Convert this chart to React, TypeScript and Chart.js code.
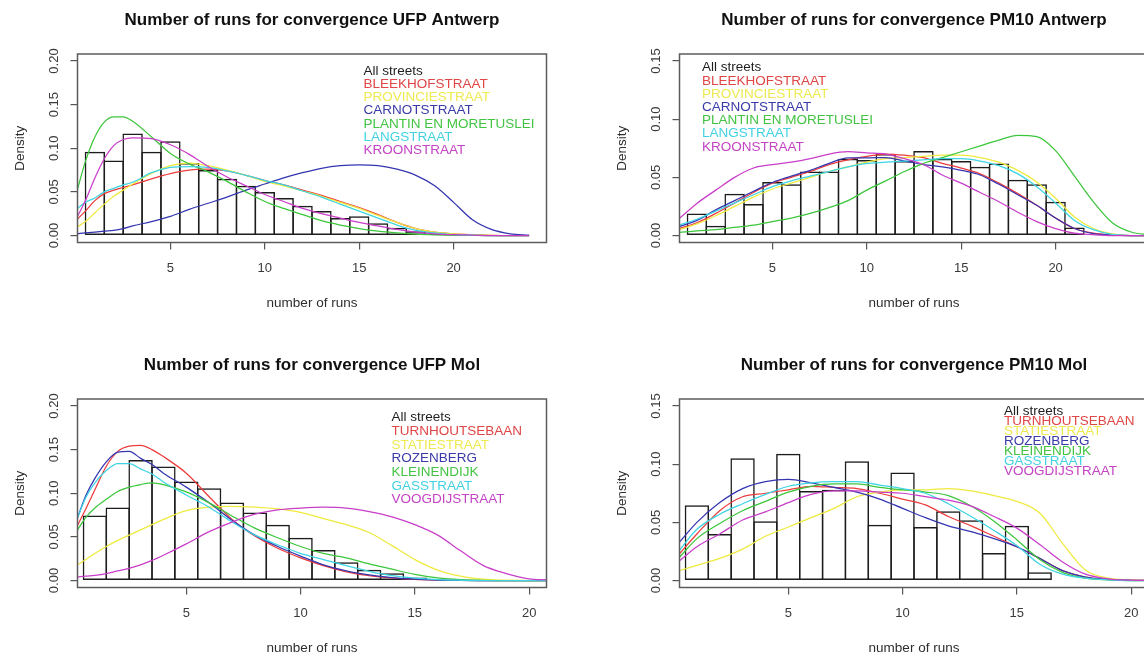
import { useEffect, useRef } from 'react';
import { Chart, registerables } from 'chart.js';

Chart.register(...registerables);

const FONT = '"Liberation Sans", Arial, Helvetica, sans-serif';
Chart.defaults.font.family = FONT;

// Street colours, in legend order
const lineColors = ['#ec3c3c', '#eeea3e', '#3535b0', '#3cc63c', '#3ed4e4', '#c93ec9'];
const textColors = ['#e04646', '#eeea52', '#3a3aa8', '#42c442', '#44d2e2', '#c444c4'];
const allStreetsLabel = 'All streets';
const xAxisLabel = 'number of runs';
const yAxisLabel = 'Density';

// ---------- UFP, Antwerp ----------
const ufpAntwerpTitle = 'Number of runs for convergence UFP Antwerp';
const antwerpStreets = ['BLEEKHOFSTRAAT', 'PROVINCIESTRAAT', 'CARNOTSTRAAT', 'PLANTIN EN MORETUSLEI', 'LANGSTRAAT', 'KROONSTRAAT'];
const ufpAntwerpRange = [1, 24];
const ufpAntwerpHist = [0.096, 0.086, 0.117, 0.096, 0.108, 0.083, 0.075, 0.065, 0.057, 0.05, 0.043, 0.034, 0.028, 0.02, 0.022, 0.014, 0.009, 0.005, 0.002];
const ufpAntwerpX = [0.08, 0.5, 1, 1.5, 2, 2.5, 3, 4, 5, 6, 7, 8, 9, 10, 11, 12, 13, 14, 15, 16, 17, 18, 19, 20, 21, 22, 23, 24];
const ufpAntwerpBleekhof = [0.019, 0.028, 0.04, 0.048, 0.052, 0.055, 0.058, 0.065, 0.071, 0.075, 0.076, 0.074, 0.069, 0.063, 0.058, 0.052, 0.046, 0.039, 0.032, 0.024, 0.015, 0.008, 0.004, 0.002, 0.001, 0.0003, 0, 0];
const ufpAntwerpProvincie = [0.01, 0.016, 0.026, 0.036, 0.045, 0.052, 0.059, 0.071, 0.08, 0.083, 0.08, 0.075, 0.069, 0.062, 0.057, 0.051, 0.045, 0.038, 0.031, 0.023, 0.015, 0.008, 0.004, 0.002, 0.001, 0.0003, 0, 0];
const ufpAntwerpCarnot = [0.002, 0.003, 0.004, 0.005, 0.006, 0.008, 0.011, 0.016, 0.022, 0.03, 0.037, 0.044, 0.052, 0.059, 0.066, 0.072, 0.077, 0.08, 0.081, 0.08, 0.076, 0.069, 0.057, 0.038, 0.018, 0.007, 0.002, 0.0005];
const ufpAntwerpPlantin = [0.053, 0.085, 0.113, 0.13, 0.136, 0.136, 0.131, 0.113, 0.094, 0.082, 0.073, 0.062, 0.05, 0.039, 0.031, 0.024, 0.017, 0.012, 0.008, 0.005, 0.003, 0.0015, 0.0007, 0.0003, 0.0001, 0, 0, 0];
const ufpAntwerpLang = [0.031, 0.038, 0.043, 0.05, 0.054, 0.058, 0.061, 0.072, 0.078, 0.079, 0.078, 0.074, 0.069, 0.063, 0.058, 0.051, 0.044, 0.036, 0.028, 0.02, 0.012, 0.006, 0.003, 0.001, 0.0005, 0, 0, 0];
const ufpAntwerpKroon = [0.022, 0.04, 0.066, 0.088, 0.103, 0.11, 0.112, 0.111, 0.104, 0.093, 0.079, 0.067, 0.057, 0.047, 0.039, 0.031, 0.025, 0.02, 0.015, 0.011, 0.007, 0.004, 0.002, 0.001, 0.0005, 0, 0, 0];

// ---------- PM10, Antwerp ----------
const pmAntwerpTitle = 'Number of runs for convergence PM10 Antwerp';
const pmAntwerpRange = [1, 24];
const pmAntwerpHist = [0.019, 0.0085, 0.036, 0.027, 0.046, 0.044, 0.055, 0.055, 0.066, 0.065, 0.07, 0.064, 0.0727, 0.066, 0.064, 0.059, 0.062, 0.048, 0.044, 0.029, 0.0068];
const pmAntwerpX = [0.08, 1, 2, 3, 4, 5, 6, 7, 8, 9, 10, 11, 12, 13, 14, 15, 16, 17, 18, 19, 20, 21, 22, 23, 24, 25];
const pmAntwerpBleekhof = [0.006, 0.011, 0.019, 0.028, 0.037, 0.045, 0.05, 0.055, 0.061, 0.065, 0.068, 0.07, 0.069, 0.067, 0.062, 0.058, 0.053, 0.045, 0.036, 0.026, 0.015, 0.006, 0.002, 0.0005, 0, 0];
const pmAntwerpProvincie = [0.005, 0.01, 0.017, 0.025, 0.033, 0.04, 0.045, 0.05, 0.055, 0.059, 0.063, 0.066, 0.067, 0.068, 0.069, 0.069, 0.067, 0.063, 0.056, 0.046, 0.032, 0.016, 0.006, 0.0015, 0, 0];
const pmAntwerpCarnot = [0.0077, 0.013, 0.022, 0.03, 0.038, 0.0456, 0.051, 0.056, 0.062, 0.0667, 0.0667, 0.067, 0.064, 0.061, 0.059, 0.056, 0.052, 0.044, 0.035, 0.026, 0.015, 0.006, 0.0017, 0.0004, 0, 0];
const pmAntwerpPlantin = [0.0026, 0.004, 0.005, 0.007, 0.009, 0.012, 0.015, 0.019, 0.024, 0.03, 0.039, 0.047, 0.055, 0.062, 0.067, 0.072, 0.077, 0.082, 0.086, 0.085, 0.073, 0.051, 0.029, 0.011, 0.003, 0.0005];
const pmAntwerpLang = [0.009, 0.014, 0.021, 0.028, 0.035, 0.042, 0.047, 0.051, 0.055, 0.059, 0.062, 0.063, 0.064, 0.065, 0.066, 0.066, 0.064, 0.06, 0.053, 0.042, 0.028, 0.013, 0.005, 0.001, 0, 0];
const pmAntwerpKroon = [0.0148, 0.0276, 0.039, 0.05, 0.058, 0.061, 0.063, 0.066, 0.07, 0.072, 0.071, 0.07, 0.066, 0.061, 0.052, 0.045, 0.037, 0.029, 0.02, 0.012, 0.006, 0.002, 0.0007, 0, 0, 0];

// ---------- UFP, Mol ----------
const ufpMolTitle = 'Number of runs for convergence UFP Mol';
const molStreets = ['TURNHOUTSEBAAN', 'STATIESTRAAT', 'ROZENBERG', 'KLEINENDIJK', 'GASSTRAAT', 'VOOGDIJSTRAAT'];
const ufpMolRange = [1, 20];
const ufpMolHist = [0.0745, 0.0836, 0.138, 0.1306, 0.1134, 0.1058, 0.0893, 0.0779, 0.0638, 0.049, 0.035, 0.021, 0.0122, 0.0084, 0.0034];
const ufpMolX = [0.24, 0.6, 1, 1.5, 2, 2.5, 3, 3.5, 4, 5, 6, 7, 8, 9, 10, 11, 12, 13, 14, 15, 16, 17, 18, 19, 20, 20.76];
const ufpMolTurnhout = [0.063, 0.082, 0.104, 0.131, 0.148, 0.154, 0.155, 0.15, 0.142, 0.123, 0.096, 0.07, 0.051, 0.037, 0.026, 0.017, 0.01, 0.0055, 0.003, 0.0012, 0.0004, 0.0001, 0, 0, 0, 0];
const ufpMolStatie = [0.018, 0.024, 0.031, 0.039, 0.046, 0.052, 0.058, 0.064, 0.07, 0.08, 0.084, 0.085, 0.084, 0.082, 0.078, 0.071, 0.064, 0.055, 0.04, 0.024, 0.012, 0.005, 0.0015, 0.0004, 0, 0];
const ufpMolRozenberg = [0.072, 0.097, 0.117, 0.136, 0.147, 0.148, 0.14, 0.133, 0.123, 0.107, 0.089, 0.069, 0.052, 0.039, 0.028, 0.018, 0.011, 0.0065, 0.0034, 0.0015, 0.0005, 0.0001, 0, 0, 0, 0];
const ufpMolKleinendijk = [0.058, 0.072, 0.083, 0.093, 0.102, 0.107, 0.11, 0.112, 0.11, 0.1015, 0.089, 0.074, 0.06, 0.049, 0.039, 0.031, 0.026, 0.019, 0.013, 0.007, 0.003, 0.001, 0.0003, 0, 0, 0];
const ufpMolGas = [0.072, 0.095, 0.112, 0.126, 0.134, 0.134, 0.128, 0.122, 0.113, 0.098, 0.084, 0.067, 0.052, 0.041, 0.031, 0.024, 0.017, 0.0105, 0.0055, 0.0027, 0.001, 0.0003, 0, 0, 0, 0];
const ufpMolVoogdij = [0.004, 0.005, 0.006, 0.008, 0.011, 0.014, 0.018, 0.023, 0.029, 0.042, 0.056, 0.067, 0.076, 0.081, 0.083, 0.084, 0.083, 0.079, 0.073, 0.064, 0.052, 0.034, 0.017, 0.008, 0.002, 0.0008];

// ---------- PM10, Mol ----------
const pmMolTitle = 'Number of runs for convergence PM10 Mol';
const pmMolRange = [1, 20];
const pmMolHist = [0.0647, 0.04, 0.105, 0.051, 0.109, 0.077, 0.078, 0.1026, 0.048, 0.0928, 0.046, 0.0595, 0.0517, 0.0236, 0.047, 0.0072];
const pmMolX = [0.24, 1, 2, 3, 4, 5, 6, 7, 8, 9, 10, 11, 12, 13, 14, 15, 16, 17, 18, 19, 20, 20.76];
const pmMolTurnhout = [0.023, 0.04, 0.06, 0.072, 0.075, 0.078, 0.081, 0.08, 0.079, 0.075, 0.07, 0.065, 0.055, 0.047, 0.038, 0.029, 0.019, 0.0085, 0.003, 0.001, 0.0002, 0];
const pmMolStatie = [0.0086, 0.013, 0.019, 0.027, 0.038, 0.046, 0.054, 0.062, 0.072, 0.076, 0.078, 0.078, 0.079, 0.077, 0.073, 0.068, 0.058, 0.032, 0.009, 0.002, 0.0005, 0];
const pmMolRozenberg = [0.033, 0.05, 0.067, 0.079, 0.085, 0.087, 0.084, 0.08, 0.076, 0.07, 0.062, 0.054, 0.047, 0.042, 0.036, 0.029, 0.019, 0.0085, 0.003, 0.001, 0.0002, 0];
const pmMolKleinendijk = [0.02, 0.036, 0.049, 0.06, 0.068, 0.076, 0.081, 0.083, 0.083, 0.08, 0.078, 0.076, 0.073, 0.064, 0.051, 0.035, 0.018, 0.007, 0.002, 0.0005, 0, 0];
const pmMolGas = [0.026, 0.044, 0.057, 0.066, 0.074, 0.081, 0.084, 0.085, 0.085, 0.082, 0.079, 0.075, 0.066, 0.055, 0.043, 0.03, 0.014, 0.0055, 0.002, 0.0005, 0, 0];
const pmMolVoogdij = [0.017, 0.029, 0.04, 0.052, 0.059, 0.067, 0.074, 0.077, 0.077, 0.076, 0.075, 0.072, 0.069, 0.064, 0.055, 0.045, 0.031, 0.016, 0.0055, 0.0015, 0.0003, 0];

// Axis ticks
const runTicks = [5, 10, 15, 20];
const ufpDensityTicks = [0, 0.05, 0.1, 0.15, 0.2];
const pmDensityTicks = [0, 0.05, 0.1, 0.15];
const ufpDensityRange = [0, 0.2];
const pmDensityRange = [0, 0.15];

// Panel geometry (canvas pixels)
const CANVAS_W = 602;
const CANVAS_H = 345;
const PLOT_LEFT = 77.5;
const PLOT_RIGHT_GAP = 55.5;
const TITLE_BLOCK = 54;
const X_AXIS_BLOCK = 70;
const BOTTOM_GAP = 32.5;

interface PanelSpec {
  title: string;
  xRange: number[];
  yRange: number[];
  yTicks: number[];
  hist: number[];
  gridX: number[];
  curves: number[][];
  streets: string[];
  legend: { x: number; y: number; step: number };
}

const panels: { spec: PanelSpec; left: number; top: number }[] = [
  {
    left: 0,
    top: 0,
    spec: {
      title: ufpAntwerpTitle, xRange: ufpAntwerpRange, yRange: ufpDensityRange, yTicks: ufpDensityTicks,
      hist: ufpAntwerpHist, gridX: ufpAntwerpX,
      curves: [ufpAntwerpBleekhof, ufpAntwerpProvincie, ufpAntwerpCarnot, ufpAntwerpPlantin, ufpAntwerpLang, ufpAntwerpKroon],
      streets: antwerpStreets, legend: { x: 363.5, y: 71, step: 13.2 },
    },
  },
  {
    left: 602,
    top: 0,
    spec: {
      title: pmAntwerpTitle, xRange: pmAntwerpRange, yRange: pmDensityRange, yTicks: pmDensityTicks,
      hist: pmAntwerpHist, gridX: pmAntwerpX,
      curves: [pmAntwerpBleekhof, pmAntwerpProvincie, pmAntwerpCarnot, pmAntwerpPlantin, pmAntwerpLang, pmAntwerpKroon],
      streets: antwerpStreets, legend: { x: 100, y: 67.7, step: 13.2 },
    },
  },
  {
    left: 0,
    top: 345,
    spec: {
      title: ufpMolTitle, xRange: ufpMolRange, yRange: ufpDensityRange, yTicks: ufpDensityTicks,
      hist: ufpMolHist, gridX: ufpMolX,
      curves: [ufpMolTurnhout, ufpMolStatie, ufpMolRozenberg, ufpMolKleinendijk, ufpMolGas, ufpMolVoogdij],
      streets: molStreets, legend: { x: 391.5, y: 72.5, step: 13.7 },
    },
  },
  {
    left: 602,
    top: 345,
    spec: {
      title: pmMolTitle, xRange: pmMolRange, yRange: pmDensityRange, yTicks: pmDensityTicks,
      hist: pmMolHist, gridX: pmMolX,
      curves: [pmMolTurnhout, pmMolStatie, pmMolRozenberg, pmMolKleinendijk, pmMolGas, pmMolVoogdij],
      streets: molStreets, legend: { x: 402, y: 66, step: 10.1 },
    },
  },
];

// Base-graphics style axis extension: 4% beyond the data range on each side
function extendRange(range: number[]): [number, number] {
  const span = range[1] - range[0];
  return [range[0] - 0.04 * span, range[1] + 0.04 * span];
}

const AXIS_COLOR = '#555555';
const TICK_TEXT = '#3a3a3a';

function DensityPanel({ spec, left, top }: { spec: PanelSpec; left: number; top: number }) {
  const ref = useRef<HTMLCanvasElement | null>(null);

  useEffect(() => {
    const canvas = ref.current;
    if (!canvas) return;
    const [xMin, xMax] = extendRange(spec.xRange);
    const [yMin, yMax] = extendRange(spec.yRange);
    const plotWidth = CANVAS_W - PLOT_LEFT - PLOT_RIGHT_GAP;
    const pxPerRun = plotWidth / (xMax - xMin);
    const outline = 1.5;

    const curveSets = spec.curves.map((vals, i) => ({
      type: 'line' as const,
      label: spec.streets[i],
      data: spec.gridX.map((x, j) => ({ x, y: vals[j] })),
      borderColor: lineColors[i],
      borderWidth: 1.25,
      pointRadius: 0,
      cubicInterpolationMode: 'monotone' as const,
      fill: false,
      order: spec.curves.length - i,
    }));

    const histSet = {
      type: 'bar' as const,
      label: allStreetsLabel,
      data: spec.hist.map((y, i) => ({ x: i + 1, y })),
      backgroundColor: 'rgba(255,255,255,0)',
      borderColor: '#1c1c1c',
      borderWidth: outline,
      borderSkipped: false,
      barPercentage: 1 + outline / pxPerRun,
      categoryPercentage: 1,
      order: 20,
    };

    const framePlugin = {
      id: 'frameAndStreetLegend',
      afterDraw(c: Chart) {
        const { ctx, chartArea: a } = c;
        ctx.save();
        ctx.strokeStyle = '#5c5c5c';
        ctx.lineWidth = 1.5;
        ctx.strokeRect(a.left, a.top, a.right - a.left, a.bottom - a.top);
        ctx.font = `13.5px ${FONT}`;
        ctx.textAlign = 'left';
        ctx.textBaseline = 'middle';
        const labels = [allStreetsLabel, ...spec.streets];
        labels.forEach((label, i) => {
          ctx.fillStyle = i === 0 ? '#1e1e1e' : textColors[i - 1];
          ctx.fillText(label, spec.legend.x, spec.legend.y + i * spec.legend.step);
        });
        ctx.restore();
      },
    };

    const tickGrid = {
      offset: false,
      drawOnChartArea: false,
      drawTicks: true,
      tickLength: 7,
      color: AXIS_COLOR,
      lineWidth: 1.2,
    };

    const chart = new Chart(canvas, {
      type: 'bar',
      data: { datasets: [...curveSets, histSet] as any },
      options: {
        animation: false,
        responsive: false,
        maintainAspectRatio: false,
        devicePixelRatio: 1,
        layout: { padding: { left: 0, top: 0, right: PLOT_RIGHT_GAP, bottom: BOTTOM_GAP } },
        plugins: {
          legend: { display: false },
          tooltip: { enabled: false },
          title: {
            display: true,
            text: spec.title,
            fullSize: false,
            color: '#111111',
            font: { size: 17, weight: 'bold', family: FONT, lineHeight: 1.2 },
            padding: { top: 9.8, bottom: TITLE_BLOCK - 9.8 - 20.4 },
          },
        },
        scales: {
          x: {
            type: 'linear',
            min: xMin,
            max: xMax,
            offset: false,
            afterBuildTicks: (axis: any) => {
              axis.ticks = runTicks.map((value) => ({ value }));
            },
            afterFit: (axis: any) => {
              axis.height = X_AXIS_BLOCK;
            },
            grid: tickGrid,
            border: { display: false },
            ticks: {
              autoSkip: false,
              maxRotation: 0,
              padding: 11,
              color: TICK_TEXT,
              font: { size: 13, family: FONT },
              callback: (v: any) => String(v),
            },
            title: {
              display: true,
              text: xAxisLabel,
              color: '#2e2e2e',
              font: { size: 13.5, family: FONT, lineHeight: 1.2 },
              padding: { top: 0, bottom: 1.5 },
            },
          },
          y: {
            type: 'linear',
            min: yMin,
            max: yMax,
            afterBuildTicks: (axis: any) => {
              axis.ticks = spec.yTicks.map((value) => ({ value }));
            },
            afterFit: (axis: any) => {
              axis.width = PLOT_LEFT;
            },
            grid: tickGrid,
            border: { display: false },
            ticks: {
              autoSkip: false,
              minRotation: 90,
              maxRotation: 90,
              crossAlign: 'center',
              padding: 3.6,
              color: TICK_TEXT,
              font: { size: 13, family: FONT },
              callback: (v: any) => Number(v).toFixed(2),
            },
            title: {
              display: true,
              text: yAxisLabel,
              color: '#2e2e2e',
              font: { size: 13.5, family: FONT, lineHeight: 1.2 },
              padding: { top: 12.4, bottom: 0 },
            },
          },
        },
      } as any,
      plugins: [framePlugin],
    });

    return () => chart.destroy();
  }, [spec]);

  return (
    <canvas
      ref={ref}
      width={CANVAS_W}
      height={CANVAS_H}
      style={{ position: 'absolute', left, top, width: CANVAS_W, height: CANVAS_H }}
    />
  );
}

export default function App() {
  return (
    <div
      style={{
        position: 'absolute',
        left: 0,
        top: 0,
        width: 1144,
        height: 657,
        overflow: 'hidden',
        background: '#ffffff',
      }}
    >
      {panels.map((p) => (
        <DensityPanel key={p.spec.title} spec={p.spec} left={p.left} top={p.top} />
      ))}
    </div>
  );
}
